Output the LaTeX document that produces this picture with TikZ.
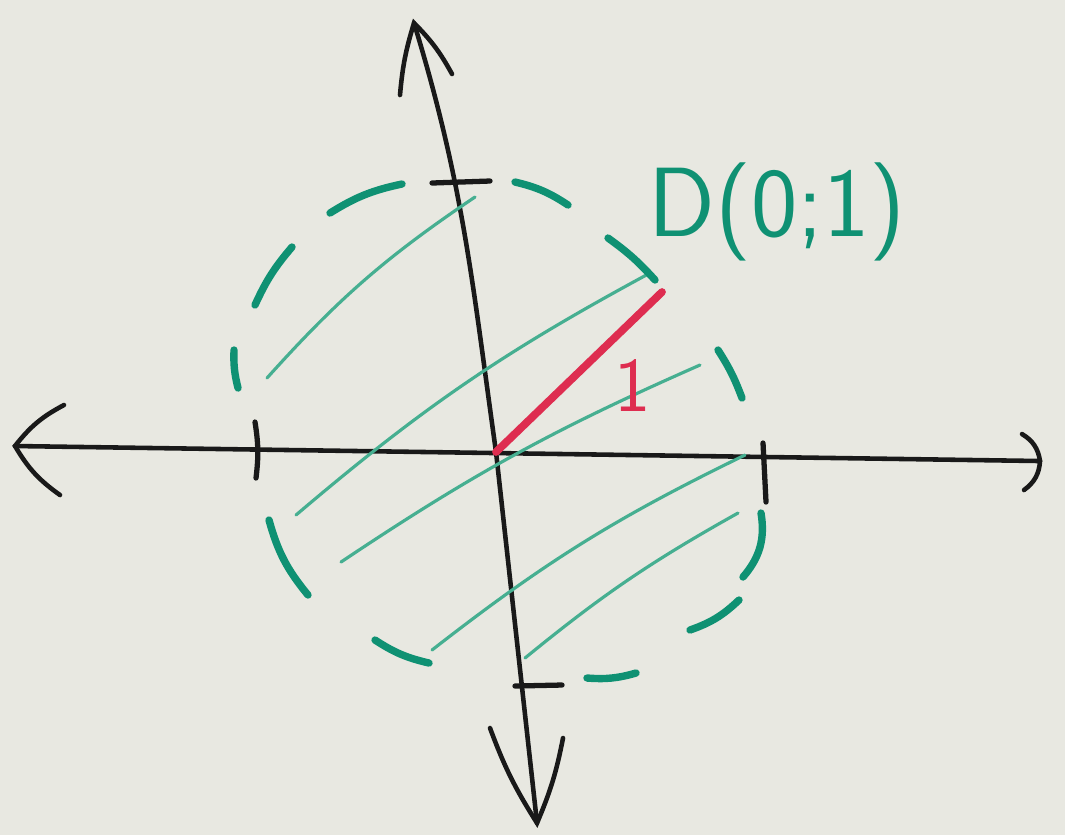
\documentclass[tikz,border=0pt]{standalone}
\usepackage{tikz}

\definecolor{boardbg}{RGB}{232,232,225}
\definecolor{axisblack}{RGB}{25,25,25}
\definecolor{diskgreen}{RGB}{15,145,115}
\definecolor{hatchgreen}{RGB}{70,175,145}
\definecolor{radred}{RGB}{222,45,80}

\begin{document}
\begin{tikzpicture}[x=0.01cm, y=-0.01cm,
  axisline/.style={line width=1.3pt, color=axisblack, line cap=round},
  axtick/.style={line width=1.5pt, color=axisblack, line cap=round},
  rim/.style={line width=2.1pt, color=diskgreen, line cap=round},
  hatch/.style={line width=0.9pt, color=hatchgreen, line cap=round},
  radline/.style={line width=2.2pt, color=radred, line cap=round}]

  % Whiteboard
  \fill[boardbg] (0,0) rectangle (1065,835);
  \useasboundingbox (0,0) rectangle (1065,835);

  % Axis end points
  \coordinate (O) at (496,452);
  \coordinate (xl) at (15,446);
  \coordinate (xr) at (1040,461);
  \coordinate (yt) at (414,23);
  \coordinate (yb) at (537,823);

  % Axes
  \draw[axisline] (xl) -- (xr);
  \draw[axisline] (yt) to[out=-73,in=98] (O) -- (yb);

  % Hand drawn arrow heads
  \draw[axisline] (64,405) to[bend right=12] (xl) to[bend right=12] (60,495);
  \draw[axisline] (1022,434) to[bend left=25] (xr) to[bend left=25] (1024,490);
  \draw[axisline] (400,95) to[bend left=6] (yt) to[bend left=8] (452,74);
  \draw[axisline] (490,728) to[bend right=6] (yb) to[bend right=6] (563,738);

  % Ticks
  \draw[axtick] (255,422) to[bend left=8] (256,478);
  \draw[axtick] (763,443) -- (766,502);
  \draw[axtick] (432,183) -- (490,181);
  \draw[axtick] (515,686) -- (562,685);

  % Hatching inside the disc
  \draw[hatch] (267,378) to[bend left=7] (475,197);
  \draw[hatch] (296,515) to[bend left=6] (650,273);
  \draw[hatch] (341,562) to[bend left=5] (700,365);
  \draw[hatch] (432,650) to[bend left=6] (745,455);
  \draw[hatch] (525,658) to[bend left=5] (738,513);

  % Dashed boundary of the disc (clockwise)
  \draw[rim] (308,595) to[bend left=12] (269,520);
  \draw[rim] (238,388) to[bend left=8] (234,350);
  \draw[rim] (255,305) to[bend left=8] (292,247);
  \draw[rim] (330,213) to[bend left=10] (402,184);
  \draw[rim] (515,182) to[bend left=10] (568,205);
  \draw[rim] (608,238) to[bend left=6] (655,280);
  \draw[rim] (718,350) to[bend left=6] (742,398);
  \draw[rim] (761,513) to[bend left=25] (743,577);
  \draw[rim] (739,600) to[bend left=12] (690,630);
  \draw[rim] (636,673) to[bend left=10] (587,678);
  \draw[rim] (429,663) to[bend left=10] (375,640);

  % Radius
  \coordinate (P) at (662,292);
  \draw[radline] (O) -- (P);
  \node[text=radred, font=\sffamily\fontsize{22}{24}\selectfont, inner sep=0pt] (unit) at (633,385) {1};

  % Label
  \node[text=diskgreen, font=\sffamily\fontsize{28}{30}\selectfont, inner sep=0pt] (disk) at (777,212) {D(0;1)};

\end{tikzpicture}
\end{document}
